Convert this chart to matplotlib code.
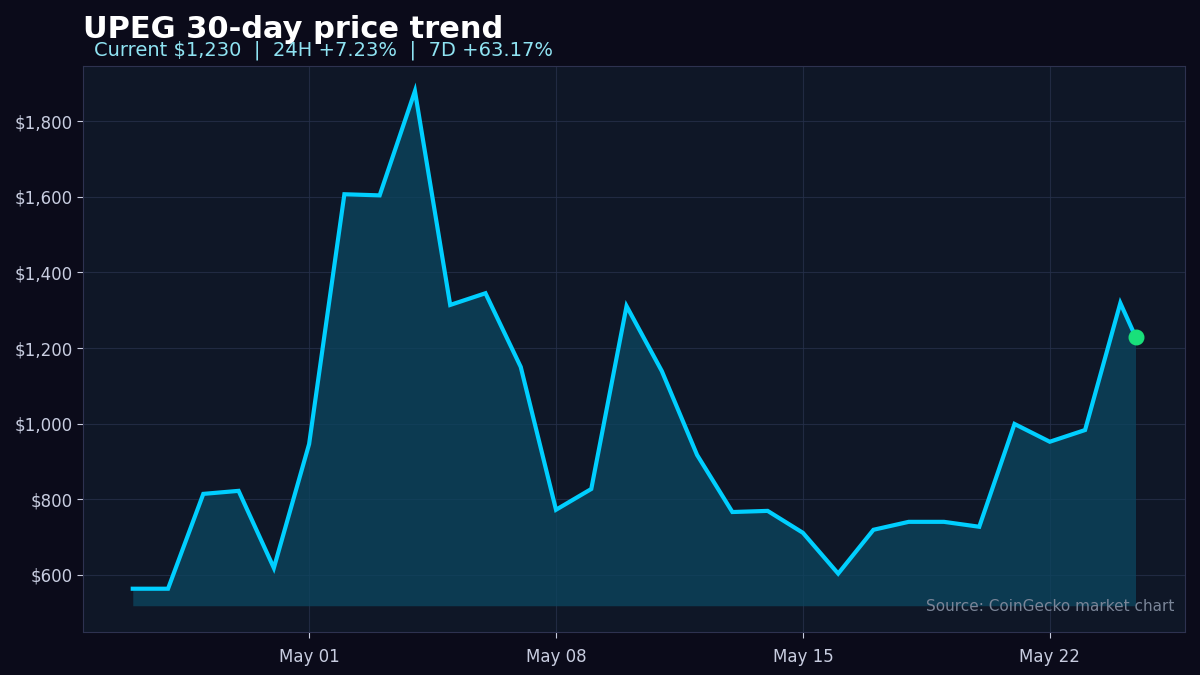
import numpy as np
import pandas as pd
import matplotlib
matplotlib.use("Agg")
import matplotlib.pyplot as plt
import matplotlib.dates as mdates
from matplotlib.ticker import FuncFormatter

# daily prices Apr 26 .. May 24, plus the current price
dates = list(pd.date_range("2024-04-26", "2024-05-24", freq="D")) + [pd.Timestamp("2024-05-24 10:20")]
prices = [563, 563, 814, 822, 618, 946, 1607, 1604, 1880, 1314, 1345, 1150,
          772, 827, 1311, 1139, 917, 766, 769, 711, 603, 719, 740, 740, 727,
          999, 952, 983, 1319, 1230]

title = "UPEG 30-day price trend"
subtitle = "Current $1,230  |  24H +7.23%  |  7D +63.17%"
source = "Source: CoinGecko market chart"

fig = plt.figure(figsize=(12, 6.75), dpi=100, facecolor="#0b0b1a")
ax = fig.add_axes([0.069, 0.064, 0.9185, 0.838])
ax.set_facecolor("#0f1727")

base = min(prices) * 0.92
ax.fill_between(dates, prices, base, color="#0c4660", alpha=0.75, linewidth=0)
ax.plot(dates, prices, color="#00cfff", linewidth=3, solid_joinstyle="miter")
ax.scatter([dates[-1]], [prices[-1]], s=110, color="#19e07a", zorder=5)

ax.set_xlim(pd.Timestamp("2024-04-24 14:00"), pd.Timestamp("2024-05-25 20:00"))
ax.set_ylim(449, 1946)
ax.xaxis.set_major_locator(mdates.DayLocator(bymonthday=[1, 8, 15, 22]))
ax.xaxis.set_major_formatter(mdates.DateFormatter("%b %d"))
ax.yaxis.set_major_formatter(FuncFormatter(lambda v, p: "${:,.0f}".format(v)))
ax.set_yticks([600, 800, 1000, 1200, 1400, 1600, 1800])

ax.grid(True, color="#26304a", linewidth=0.8, alpha=0.8)
ax.set_axisbelow(True)
for s in ax.spines.values():
    s.set_color("#2e3250")
ax.tick_params(colors="#c8cde0", labelsize=12, length=4)
ax.tick_params(axis="x", pad=8)

fig.text(0.069, 0.957, title, color="white", fontsize=22, fontweight="bold", va="center")
fig.text(0.078, 0.926, subtitle, color="#8fe3f2", fontsize=14, va="center")
ax.text(0.99, 0.045, source, transform=ax.transAxes, ha="right", va="center",
        color="#7a8598", fontsize=11)

fig.savefig("out.png", dpi=100, facecolor=fig.get_facecolor())
